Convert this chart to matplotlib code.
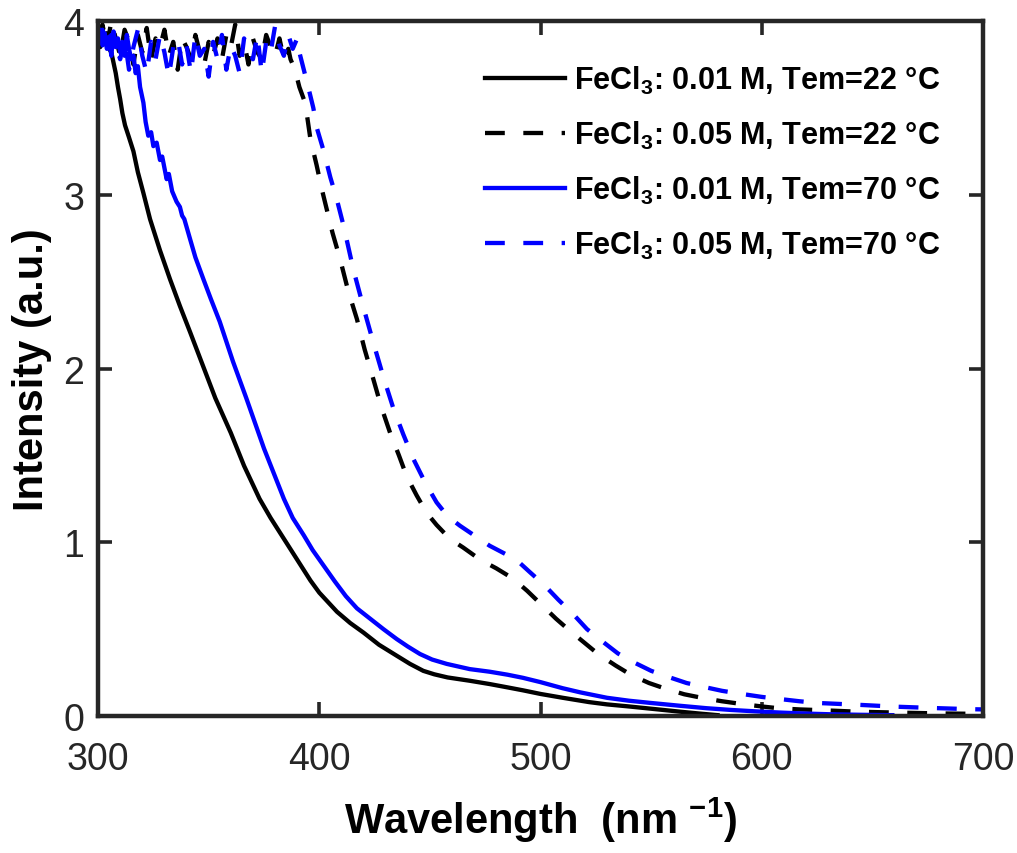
import matplotlib
matplotlib.use('Agg')
import matplotlib.pyplot as plt

# ----------------------- #
# Data
# ----------------------- #

# FeCl3 0.01 M, 22 C
wl_a = [300, 301, 302, 303, 304, 305, 306, 307, 308, 309, 310, 311, 312.2, 314, 316,
        318, 320.5, 323.5, 328, 332.5, 337, 341.6, 347, 353, 360, 366, 373, 378, 384, 387,
        392, 396, 400, 408, 414, 420, 427, 435, 441, 447, 452, 458, 468, 477, 485,
        492, 500, 510, 522, 530, 540, 550, 563, 572, 580]
int_a = [3.92, 3.85, 3.96, 3.88, 3.93, 3.84, 3.82, 3.76, 3.70, 3.62, 3.55, 3.47, 3.40, 3.33, 3.25,
         3.13, 3.01, 2.86, 2.68, 2.515, 2.36, 2.21, 2.03, 1.83, 1.63, 1.44, 1.25, 1.14, 1.02, 0.96,
         0.86, 0.78, 0.71, 0.60, 0.535, 0.48, 0.41, 0.347, 0.30, 0.26, 0.24, 0.222, 0.203, 0.184, 0.165,
         0.148, 0.127, 0.105, 0.08, 0.067, 0.055, 0.042, 0.025, 0.014, 0.005]

# FeCl3 0.05 M, 22 C
wl_b = [300, 302, 304, 306, 308, 310, 312, 314, 316, 318, 320, 322, 324, 326, 328,
        330, 332, 334, 336, 338, 340, 342, 344, 346, 348, 350, 352, 354, 356, 358,
        360, 362, 364, 366, 368, 370, 372, 374, 376, 378, 380, 382, 384, 386, 387,
        389, 391, 393, 394.3, 396, 398.8, 401, 403.3, 406, 409.4, 413, 417, 420.5, 424.4, 428,
        432, 436, 439.5, 444, 448.5, 453, 459, 465, 472.7, 480, 487.7, 494, 500.5, 507, 513.3,
        520, 526, 534, 541, 549, 557, 565, 574, 582, 591, 600, 608, 617, 626, 643,
        660, 680, 700]
int_b = [3.90, 3.98, 3.85, 4.00, 3.90, 3.80, 3.95, 3.88, 3.75, 3.92, 3.82, 3.96, 3.78, 3.90, 3.85,
         3.95, 3.80, 3.88, 3.72, 3.90, 3.85, 3.78, 3.92, 3.82, 3.75, 3.88, 3.80, 3.90, 3.78, 3.92,
         3.85, 3.98, 3.80, 3.88, 3.75, 3.90, 3.82, 3.78, 3.92, 3.85, 3.80, 3.90, 3.78, 3.84, 3.78,
         3.72, 3.62, 3.55, 3.47, 3.32, 3.17, 3.04, 2.92, 2.78, 2.63, 2.45, 2.285, 2.11, 1.94, 1.78,
         1.63, 1.50, 1.38, 1.27, 1.17, 1.10, 1.02, 0.97, 0.90, 0.85, 0.79, 0.72, 0.64, 0.56, 0.49,
         0.42, 0.357, 0.29, 0.236, 0.19, 0.155, 0.125, 0.102, 0.085, 0.069, 0.055, 0.044, 0.038, 0.034, 0.025,
         0.02, 0.015, 0.012]

# FeCl3 0.01 M, 70 C
wl_c = [300, 301, 302, 303, 304, 305, 306, 307, 308, 309, 310, 311, 312, 313, 314,
        315, 316, 317, 318, 319, 320.5, 321.5, 322.7, 324, 325, 326.5, 328, 329, 331, 332,
        333.5, 335.5, 337, 338, 339, 341.6, 344, 347.6, 351, 355, 361, 367, 375, 384, 388,
        393, 397, 402, 407, 412, 417, 423, 429, 435, 440, 445.5, 451, 457.6, 468, 477,
        485, 492, 500, 510, 518, 530, 540, 550, 563, 575, 586, 597, 608, 620, 631,
        645, 659]
int_c = [3.90, 3.95, 3.86, 3.93, 3.84, 3.91, 3.80, 3.94, 3.85, 3.90, 3.82, 3.88, 3.80, 3.92, 3.84,
         3.78, 3.80, 3.70, 3.74, 3.62, 3.53, 3.42, 3.34, 3.36, 3.28, 3.30, 3.20, 3.22, 3.09, 3.12,
         3.02, 2.96, 2.93, 2.88, 2.86, 2.745, 2.64, 2.515, 2.40, 2.27, 2.04, 1.83, 1.54, 1.25, 1.14,
         1.04, 0.955, 0.865, 0.775, 0.69, 0.62, 0.56, 0.50, 0.443, 0.40, 0.357, 0.325, 0.30, 0.27, 0.255,
         0.238, 0.22, 0.195, 0.16, 0.136, 0.105, 0.088, 0.075, 0.059, 0.045, 0.035, 0.027, 0.02, 0.014, 0.01,
         0.007, 0.005]

# FeCl3 0.05 M, 70 C
wl_d = [300, 302, 304, 306, 308, 310, 312, 314, 316, 318, 320, 322, 324, 326, 328,
        330, 332, 334, 336, 338, 340, 342, 344, 346, 348, 350, 352, 354, 356, 358,
        360, 362, 364, 366, 368, 370, 372, 374, 376, 378, 380, 382, 384, 386, 388,
        390, 391, 393, 395, 397.3, 399, 401.8, 405, 407.8, 411, 415.4, 420, 424.4, 429, 433.5,
        438, 442.5, 448, 453, 458, 463.6, 470, 477, 483, 489, 495, 502, 508, 514.7, 521,
        528.4, 535, 542, 550, 558, 566, 574, 582, 591, 600, 608, 617, 625.5, 643, 660,
        677.5, 695, 700]
int_d = [3.88, 3.95, 3.82, 3.92, 3.86, 3.78, 3.90, 3.72, 3.85, 3.95, 3.80, 3.70, 3.88, 3.78, 3.92,
         3.82, 3.68, 3.85, 3.90, 3.75, 3.86, 3.70, 3.92, 3.80, 3.84, 3.68, 3.88, 3.78, 3.92, 3.72,
         3.86, 3.80, 3.70, 3.90, 3.84, 3.78, 3.92, 3.70, 3.88, 3.82, 3.97, 3.86, 3.80, 3.92, 3.84,
         3.90, 3.82, 3.72, 3.62, 3.50, 3.38, 3.26, 3.10, 2.98, 2.82, 2.57, 2.35, 2.15, 1.95, 1.77,
         1.62, 1.48, 1.34, 1.23, 1.15, 1.095, 1.04, 0.98, 0.94, 0.90, 0.83, 0.75, 0.67, 0.587, 0.50,
         0.425, 0.36, 0.31, 0.26, 0.224, 0.19, 0.167, 0.145, 0.127, 0.11, 0.098, 0.085, 0.075, 0.065, 0.054,
         0.046, 0.039, 0.038]

labels = ['FeCl$_3$: 0.01 M, Tem=22 °C',
          'FeCl$_3$: 0.05 M, Tem=22 °C',
          'FeCl$_3$: 0.01 M, Tem=70 °C',
          'FeCl$_3$: 0.05 M, Tem=70 °C']

# ----------------------- #
# Plot
# ----------------------- #
plt.rcParams['font.family'] = ['Liberation Sans', 'DejaVu Sans']
plt.rcParams['mathtext.fontset'] = 'custom'
plt.rcParams['mathtext.rm'] = 'Liberation Sans:bold'
plt.rcParams['mathtext.it'] = 'Liberation Sans:bold'
plt.rcParams['mathtext.bf'] = 'Liberation Sans:bold'

fig = plt.figure(figsize=(10.17, 8.54), dpi=100)
ax = fig.add_axes([0.0964, 0.1604, 0.8702, 0.8138])

lw = 3.1
dash = (4.6, 4.3)
ax.plot(wl_a, int_a, color='black', lw=lw, label=labels[0])
ax.plot(wl_b, int_b, color='black', lw=lw, dashes=dash, label=labels[1])
ax.plot(wl_c, int_c, color='#0000ff', lw=lw, label=labels[2])
ax.plot(wl_d, int_d, color='#0000ff', lw=lw, dashes=dash, label=labels[3])

ax.set_xlim(300, 700)
ax.set_ylim(0, 4)
ax.set_xticks([300, 400, 500, 600, 700])
ax.set_yticks([0, 1, 2, 3, 4])

for side in ax.spines.values():
    side.set_linewidth(3.2)
    side.set_color('#262626')
ax.tick_params(direction='in', length=10, width=2.6, color='#262626',
               labelcolor='#262626', top=True, right=True, labelsize=27)
ax.tick_params(axis='x', pad=18)
ax.tick_params(axis='y', pad=10)

ax.set_xlabel('Wavelength  (nm $^{-1}$)', fontsize=30, fontweight='bold', labelpad=13)
ax.set_ylabel('Intensity (a.u.)', fontsize=30, fontweight='bold', labelpad=8)

leg = ax.legend(loc='upper right', frameon=False, prop={'size': 22, 'weight': 'bold'},
                handlelength=2.6, handletextpad=0.3, labelspacing=0.75,
                borderaxespad=1.0)

fig.savefig('out.png', dpi=100)
